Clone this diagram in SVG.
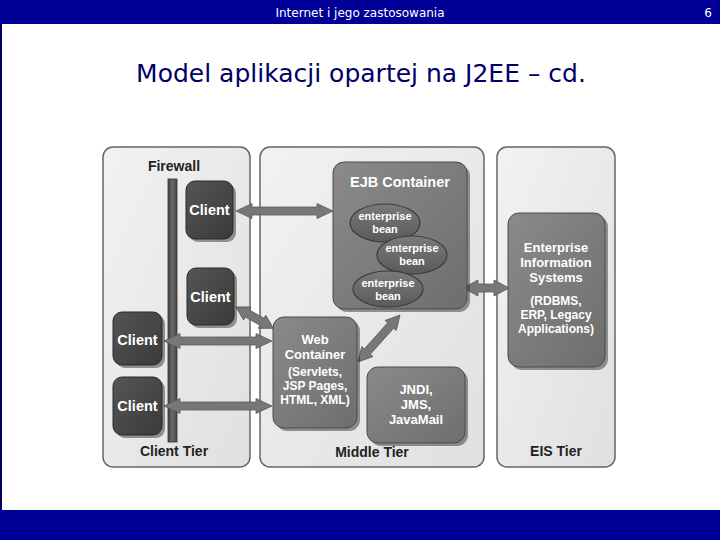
<svg xmlns="http://www.w3.org/2000/svg" width="720" height="540" viewBox="0 0 720 540">
<defs>
<linearGradient id="panelGrad" x1="0" y1="0" x2="1" y2="1">
<stop offset="0" stop-color="#f2f2f2"/>
<stop offset="1" stop-color="#e0e0e0"/>
</linearGradient>
<linearGradient id="darkGrad" x1="0" y1="0" x2="1" y2="1">
<stop offset="0" stop-color="#555555"/>
<stop offset="1" stop-color="#3a3a3a"/>
</linearGradient>
<linearGradient id="midGrad" x1="0" y1="0" x2="1" y2="1">
<stop offset="0" stop-color="#8a8a8a"/>
<stop offset="1" stop-color="#6e6e6e"/>
</linearGradient>
<linearGradient id="beanGrad" x1="0" y1="0" x2="0" y2="1">
<stop offset="0" stop-color="#7a7a7a"/>
<stop offset="1" stop-color="#5a5a5a"/>
</linearGradient>
<linearGradient id="barGrad" x1="0" y1="0" x2="1" y2="0">
<stop offset="0" stop-color="#444444"/>
<stop offset="0.5" stop-color="#6a6a6a"/>
<stop offset="1" stop-color="#444444"/>
</linearGradient>
</defs>
<style>
.bar{fill:#000099}
.hdr{font-family:"DejaVu Sans",sans-serif;font-size:12px;fill:#ffffff}
.title{font-family:"DejaVu Sans",sans-serif;font-size:25px;fill:#000066}
.panel{fill:url(#panelGrad);stroke:#666666;stroke-width:1.5}
.shadow{fill:#222222;opacity:0.45}
.client{fill:url(#darkGrad);stroke:#2a2a2a;stroke-width:1}
.box{fill:url(#midGrad);stroke:#4a4a4a;stroke-width:1}
.bean{fill:url(#beanGrad);stroke:#3a3a3a;stroke-width:1.2}
.arrow{fill:#777777;stroke:#5a5a5a;stroke-width:0.8}
.lbl{font-family:"Liberation Sans",Arial,sans-serif;font-weight:bold;font-size:14px;fill:#222222;text-anchor:middle}
.wt{font-family:"Liberation Sans",Arial,sans-serif;font-weight:bold;font-size:14.5px;fill:#ffffff;text-anchor:middle}
.wm{font-family:"Liberation Sans",Arial,sans-serif;font-weight:bold;font-size:13px;fill:#ffffff;text-anchor:middle}
.ws{font-family:"Liberation Sans",Arial,sans-serif;font-weight:bold;font-size:12px;fill:#ffffff;text-anchor:middle}
.wb{font-family:"Liberation Sans",Arial,sans-serif;font-weight:bold;font-size:11px;fill:#ffffff;text-anchor:middle}
</style>

<!-- slide frame -->
<rect x="0" y="0" width="720" height="540" fill="#ffffff"/>
<rect class="bar" x="0" y="0" width="720" height="24"/>
<rect class="bar" x="0" y="510" width="720" height="30"/>
<rect x="0" y="24" width="2" height="486" fill="#000066"/>
<text class="hdr" x="360" y="17" text-anchor="middle">Internet i jego zastosowania</text>
<text class="hdr" x="708" y="17" text-anchor="middle">6</text>
<text class="title" x="361" y="82" text-anchor="middle">Model aplikacji opartej na J2EE – cd.</text>

<!-- tier panels -->
<g id="client-tier">
<rect class="panel" x="103" y="147" width="147" height="320" rx="10"/>
<text class="lbl" x="174" y="171">Firewall</text>
<text class="lbl" x="174" y="456">Client Tier</text>
</g>
<g id="middle-tier">
<rect class="panel" x="260" y="147" width="224" height="320" rx="10"/>
<text class="lbl" x="372" y="457">Middle Tier</text>
</g>
<g id="eis-tier">
<rect class="panel" x="497" y="147" width="118" height="320" rx="10"/>
<text class="lbl" x="556" y="456">EIS Tier</text>
</g>

<g id="firewall">
<rect x="168" y="179" width="9" height="263" fill="url(#barGrad)" stroke="#333333" stroke-width="0.8"/>
</g>

<!-- connectors -->
<g id="connectors">
<path id="c-client1-ejb" class="arrow" d="M236,211 L252,203.5 L252,207 L317,207 L317,203.5 L333,211 L317,218.5 L317,215 L252,215 L252,218.5 Z"/>
<path id="c-client2-web" class="arrow" transform="translate(236,307) rotate(29.6)" d="M0,0 L13,-7.5 L13,-4 L30,-4 L30,-7.5 L43,0 L30,7.5 L30,4 L13,4 L13,7.5 Z"/>
<path id="c-client3-web" class="arrow" d="M164,341 L180,333.5 L180,337 L256,337 L256,333.5 L272,341 L256,348.5 L256,345 L180,345 L180,348.5 Z"/>
<path id="c-client4-web" class="arrow" d="M164,406 L180,398.5 L180,402 L256,402 L256,398.5 L272,406 L256,413.5 L256,410 L180,410 L180,413.5 Z"/>
<path id="c-web-ejb" class="arrow" transform="translate(358,362) rotate(-48.2)" d="M0,0 L14,-7.5 L14,-4 L49,-4 L49,-7.5 L63,0 L49,7.5 L49,4 L14,4 L14,7.5 Z"/>
<path id="c-ejb-eis" class="arrow" d="M463,288 L478,280 L478,284 L494,284 L494,280 L509,288 L494,296 L494,292 L478,292 L478,296 Z"/>
</g>

<!-- clients -->
<g id="client1">
<rect class="shadow" x="189" y="184" width="47" height="58" rx="9"/>
<rect class="client" x="186" y="181" width="47" height="58" rx="9"/>
<text class="wt" x="209.5" y="215">Client</text>
</g>
<g id="client2">
<rect class="shadow" x="190" y="271" width="47" height="57" rx="9"/>
<rect class="client" x="187" y="268" width="47" height="57" rx="9"/>
<text class="wt" x="210.5" y="302">Client</text>
</g>
<g id="client3">
<rect class="shadow" x="116" y="315" width="49" height="53" rx="9"/>
<rect class="client" x="113" y="312" width="49" height="53" rx="9"/>
<text class="wt" x="137.5" y="345">Client</text>
</g>
<g id="client4">
<rect class="shadow" x="116" y="380" width="49" height="58" rx="9"/>
<rect class="client" x="113" y="377" width="49" height="58" rx="9"/>
<text class="wt" x="137.5" y="411">Client</text>
</g>

<!-- EJB container -->
<g id="ejb-container">
<rect class="shadow" x="336" y="165" width="134" height="147" rx="11"/>
<rect class="box" x="333" y="162" width="134" height="147" rx="11"/>
<text class="wt" x="400" y="187">EJB Container</text>
</g>
<g id="bean1">
<ellipse class="bean" cx="385" cy="223" rx="35" ry="19"/>
<text class="wb" x="385" y="220">enterprise</text>
<text class="wb" x="385" y="233">bean</text>
</g>
<g id="bean2">
<ellipse class="bean" cx="412" cy="255" rx="35" ry="19"/>
<text class="wb" x="412" y="252">enterprise</text>
<text class="wb" x="412" y="265">bean</text>
</g>
<g id="bean3">
<ellipse class="bean" cx="388" cy="289" rx="35" ry="18"/>
<text class="wb" x="388" y="287">enterprise</text>
<text class="wb" x="388" y="300">bean</text>
</g>

<!-- Web container -->
<g id="web-container">
<rect class="shadow" x="276" y="320" width="84" height="111" rx="11"/>
<rect class="box" x="273" y="317" width="84" height="111" rx="11"/>
<text class="wm" x="315" y="344">Web</text>
<text class="wm" x="315" y="359">Container</text>
<text class="ws" x="315" y="376">(Servlets,</text>
<text class="ws" x="315" y="390">JSP Pages,</text>
<text class="ws" x="315" y="404">HTML, XML)</text>
</g>

<!-- JNDI -->
<g id="jndi">
<rect class="shadow" x="370" y="370" width="98" height="76" rx="11"/>
<rect class="box" x="367" y="367" width="98" height="76" rx="11"/>
<text class="wm" x="416" y="394">JNDI,</text>
<text class="wm" x="416" y="409">JMS,</text>
<text class="wm" x="416" y="424">JavaMail</text>
</g>

<!-- EIS -->
<g id="eis">
<rect class="shadow" x="511" y="216" width="97" height="154" rx="11"/>
<rect class="box" x="508" y="213" width="97" height="154" rx="11"/>
<text class="wm" x="556" y="252">Enterprise</text>
<text class="wm" x="556" y="267">Information</text>
<text class="wm" x="556" y="282">Systems</text>
<text class="ws" x="556" y="305">(RDBMS,</text>
<text class="ws" x="556" y="319">ERP, Legacy</text>
<text class="ws" x="556" y="333">Applications)</text>
</g>
</svg>
